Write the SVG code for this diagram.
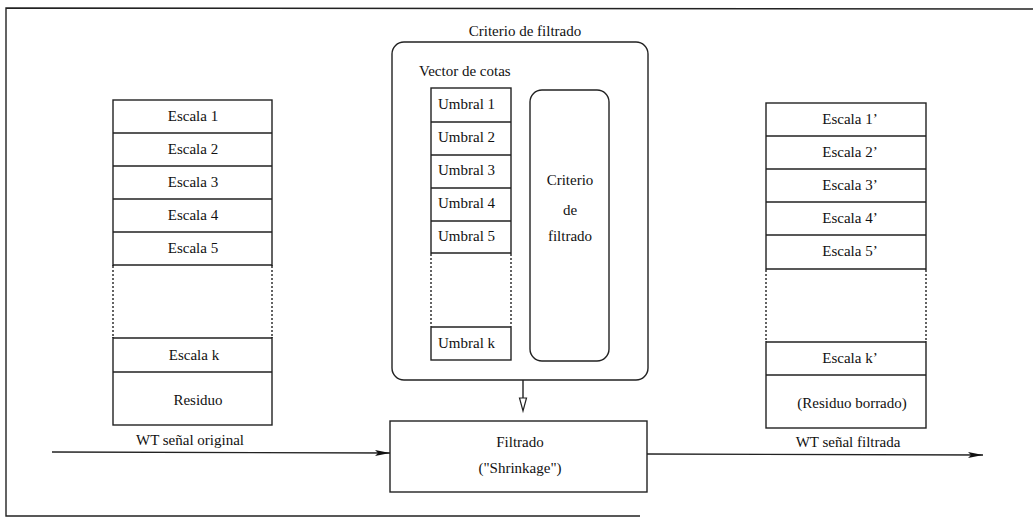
<svg xmlns="http://www.w3.org/2000/svg" width="1035" height="518" viewBox="0 0 1035 518">
<style>
text{font-family:"Liberation Serif","Times New Roman",serif;font-size:15px;fill:#111}
.c{text-anchor:middle}
.b{fill:#fff;stroke:#222;stroke-width:1.4}
.l{stroke:#222;stroke-width:1.4;fill:none}
.d{stroke:#222;stroke-width:1.4;fill:none;stroke-dasharray:2 2}
</style>
<defs>
<marker id="fa" markerWidth="16" markerHeight="8" refX="15" refY="4" orient="auto" markerUnits="userSpaceOnUse"><path d="M0,1 L15,4 L0,7 L3,4 Z" fill="#111"/></marker>
<marker id="ha" markerWidth="10" markerHeight="14" refX="4" refY="13" orient="auto-start-reverse" markerUnits="userSpaceOnUse"></marker>
</defs>
<g id="frame"><path class="l" d="M1033,9 L6,8 L6,516 L640,516"/></g>
<g id="entrada">
<rect class="b" x="113" y="100" width="159" height="325"/>
<path class="l" d="M113,133H272M113,166H272M113,199H272M113,232H272M113,265H272M113,338H272M113,372H272"/>
<path class="d" d="M113,265V338M272,265V338" stroke="#fff"/>
<rect x="110" y="266" width="165" height="71" fill="#fff"/>
<path class="d" d="M113,266V337M272,266V337"/>
<text class="c" x="193" y="121">Escala 1</text>
<text class="c" x="193" y="154">Escala 2</text>
<text class="c" x="193" y="187">Escala 3</text>
<text class="c" x="193" y="220">Escala 4</text>
<text class="c" x="193" y="253">Escala 5</text>
<text class="c" x="194" y="360">Escala k</text>
<text class="c" x="198" y="405">Residuo</text>
</g>
<g id="criterio">
<text class="c" x="525" y="36">Criterio de filtrado</text>
<rect class="b" x="392" y="42" width="256" height="338" rx="12"/>
<text x="419" y="76">Vector de cotas</text>
</g>
<g id="vector">
<rect class="b" x="431" y="88" width="80" height="272"/>
<path class="l" d="M431,122H511M431,155H511M431,188H511M431,221H511M431,253H511M431,327H511"/>
<rect x="428" y="254" width="86" height="72" fill="#fff"/>
<path class="d" d="M431,254V326M511,254V326"/>
<text x="438" y="109">Umbral 1</text>
<text x="438" y="142">Umbral 2</text>
<text x="438" y="175">Umbral 3</text>
<text x="438" y="208">Umbral 4</text>
<text x="438" y="241">Umbral 5</text>
<text x="438" y="348">Umbral k</text>
</g>
<g id="criterio-interno">
<rect class="b" x="530" y="90" width="79" height="271" rx="12"/>
<text class="c" x="570" y="185">Criterio</text>
<text class="c" x="570" y="215">de</text>
<text class="c" x="570" y="241">filtrado</text>
</g>
<g id="filtrado">
<rect class="b" x="390" y="421" width="257" height="71"/>
<text class="c" x="520" y="447">Filtrado</text>
<text class="c" x="520" y="473">("Shrinkage")</text>
</g>
<g id="salida">
<rect class="b" x="766" y="103" width="160" height="325"/>
<path class="l" d="M766,136H926M766,169H926M766,202H926M766,235H926M766,269H926M766,342H926M766,375H926"/>
<rect x="763" y="270" width="166" height="71" fill="#fff"/>
<path class="d" d="M766,270V341M926,270V341"/>
<text class="c" x="850" y="124">Escala 1’</text>
<text class="c" x="850" y="157">Escala 2’</text>
<text class="c" x="850" y="190">Escala 3’</text>
<text class="c" x="850" y="223">Escala 4’</text>
<text class="c" x="850" y="256">Escala 5’</text>
<text class="c" x="850" y="363">Escala k’</text>
<text class="c" x="852" y="408">(Residuo borrado)</text>
</g>
<g id="connectors">
<path class="l" d="M52,452 L390,453" marker-end="url(#fa)"/>
<path class="l" d="M647,454 L983,455" marker-end="url(#fa)"/>
<path class="l" d="M523,380 V410"/>
<path d="M519.5,398 L523,411 L526.5,398 Z" fill="#fff" stroke="#222" stroke-width="1.2"/>
<text class="c" x="190" y="445">WT señal original</text>
<text class="c" x="848" y="447">WT señal filtrada</text>
</g>
</svg>
